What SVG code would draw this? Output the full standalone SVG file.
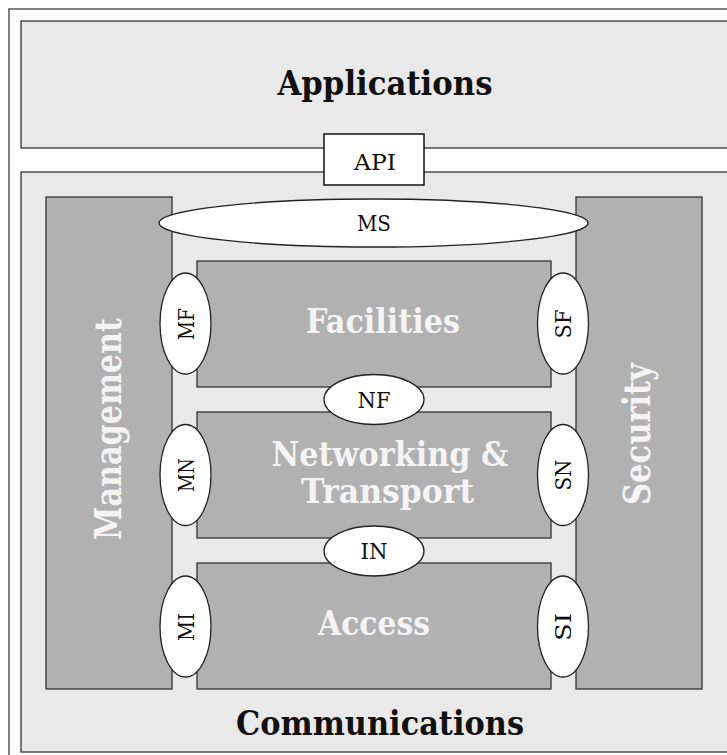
<svg xmlns="http://www.w3.org/2000/svg" width="727" height="755" viewBox="0 0 727 755">
<style>
.light{fill:#e9e9e9;stroke:#333;stroke-width:1.3}
.dark{fill:#b1b1b1;stroke:#333;stroke-width:1.3}
.iface{fill:#fff;stroke:#222;stroke-width:1.3}
.big{font-family:"DejaVu Serif","Liberation Serif",serif;font-weight:bold;text-anchor:middle}
.blk{fill:#111}
.wht{fill:#f4f4f4}
.sm{font-family:"DejaVu Serif","Liberation Serif",serif;font-size:22px;fill:#111;text-anchor:middle}
</style>
<rect x="0" y="0" width="727" height="755" fill="#fff"/>
<g id="outer"><rect x="9" y="9" width="740" height="770" fill="#fff" stroke="#555" stroke-width="1.5"/></g>
<g id="applications">
<rect class="light" x="21" y="21" width="720" height="127"/>
<text class="big blk" x="385" y="95" font-size="34" textLength="215" lengthAdjust="spacingAndGlyphs">Applications</text>
</g>
<g id="communications">
<rect class="light" x="21" y="172" width="720" height="580"/>
<text class="big blk" x="380" y="735" font-size="34" textLength="288" lengthAdjust="spacingAndGlyphs">Communications</text>
</g>
<g id="api">
<rect x="324" y="134" width="100" height="51" fill="#fff" stroke="#111" stroke-width="1.5"/>
<text class="sm" x="375" y="170" textLength="42" lengthAdjust="spacingAndGlyphs">API</text>
</g>
<g id="management">
<rect class="dark" x="46" y="197" width="126" height="492"/>
<text class="big wht" transform="translate(121,429) rotate(-90)" font-size="38" textLength="222" lengthAdjust="spacingAndGlyphs">Management</text>
</g>
<g id="security">
<rect class="dark" x="576" y="197" width="126" height="492"/>
<text class="big wht" transform="translate(650,434) rotate(-90)" font-size="38" textLength="142" lengthAdjust="spacingAndGlyphs">Security</text>
</g>
<g id="facilities">
<rect class="dark" x="197" y="261" width="354" height="126"/>
<text class="big wht" x="383" y="333" font-size="34" textLength="154" lengthAdjust="spacingAndGlyphs">Facilities</text>
</g>
<g id="networking">
<rect class="dark" x="197" y="412" width="354" height="126"/>
<text class="big wht" x="390" y="466" font-size="34" textLength="237" lengthAdjust="spacingAndGlyphs">Networking &amp;</text>
<text class="big wht" x="387.5" y="503" font-size="34" textLength="173" lengthAdjust="spacingAndGlyphs">Transport</text>
</g>
<g id="access">
<rect class="dark" x="197" y="563" width="354" height="126"/>
<text class="big wht" x="374" y="635" font-size="34" textLength="112" lengthAdjust="spacingAndGlyphs">Access</text>
</g>
<g id="connectors"></g>
<g id="ms"><ellipse class="iface" cx="373.5" cy="223" rx="214.5" ry="24"/><text class="sm" x="374" y="231" textLength="34" lengthAdjust="spacingAndGlyphs">MS</text></g>
<g id="nf"><ellipse class="iface" cx="374" cy="399.5" rx="50" ry="25"/><text class="sm" x="374" y="408" textLength="33" lengthAdjust="spacingAndGlyphs">NF</text></g>
<g id="in"><ellipse class="iface" cx="374" cy="551" rx="50" ry="25"/><text class="sm" x="374" y="559" textLength="27" lengthAdjust="spacingAndGlyphs">IN</text></g>
<g id="mf"><ellipse class="iface" cx="185.5" cy="323.5" rx="25.5" ry="50.5"/><text class="sm" transform="translate(193.5,324) rotate(-90)" textLength="32" lengthAdjust="spacingAndGlyphs">MF</text></g>
<g id="mn"><ellipse class="iface" cx="185.5" cy="475" rx="25.5" ry="50.5"/><text class="sm" transform="translate(193.5,475) rotate(-90)" textLength="34" lengthAdjust="spacingAndGlyphs">MN</text></g>
<g id="mi"><ellipse class="iface" cx="185.5" cy="626.5" rx="25.5" ry="50.5"/><text class="sm" transform="translate(193.5,627) rotate(-90)" textLength="28" lengthAdjust="spacingAndGlyphs">MI</text></g>
<g id="sf"><ellipse class="iface" cx="563" cy="323.5" rx="25.5" ry="50.5"/><text class="sm" transform="translate(571,324) rotate(-90)" textLength="29" lengthAdjust="spacingAndGlyphs">SF</text></g>
<g id="sn"><ellipse class="iface" cx="563" cy="475" rx="25.5" ry="50.5"/><text class="sm" transform="translate(571,475) rotate(-90)" textLength="31" lengthAdjust="spacingAndGlyphs">SN</text></g>
<g id="si"><ellipse class="iface" cx="563" cy="626.5" rx="25.5" ry="50.5"/><text class="sm" transform="translate(571,627) rotate(-90)" textLength="28" lengthAdjust="spacingAndGlyphs">SI</text></g>
</svg>
